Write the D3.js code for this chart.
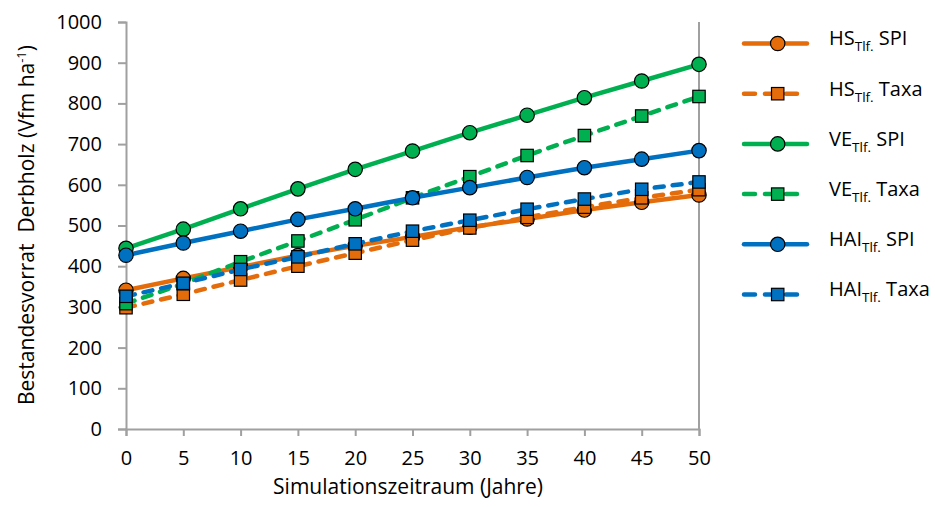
<!DOCTYPE html>
<html><head><meta charset="utf-8">
<script src="https://cdn.jsdelivr.net/npm/d3@7"></script>
<style>
html,body{margin:0;padding:0;background:#fff;}
text{font-family:"Open Sans","Noto Sans",sans-serif;fill:#000;}
</style></head>
<body>
<svg id="c" width="935" height="507"></svg>
<script>
const years = [0,5,10,15,20,25,30,35,40,45,50];
const hsSPI   = [341,370,398,426,450,472,496,516,538,557,575];
const hsTaxa  = [298,331,366,400,432,464,494,520,545,568,588];
const veSPI   = [444,491,541,590,638,683,728,771,814,855,896];
const veTaxa  = [308,357,411,462,514,568,620,672,721,769,817];
const haiSPI  = [427,457,486,515,541,568,593,618,642,663,684];
const haiTaxa = [326,358,392,423,455,486,513,540,565,589,607];
const yTicks = [0,100,200,300,400,500,600,700,800,900,1000];
const xTicks = [0,5,10,15,20,25,30,35,40,45,50];
const seriesNames = ["HS","HS","VE","VE","HAI","HAI"];
const seriesKinds = ["SPI","Taxa","SPI","Taxa","SPI","Taxa"];
const seriesColors = ["#E46C0A","#E46C0A","#00B050","#00B050","#0070C0","#0070C0"];
const seriesData = [hsSPI,hsTaxa,veSPI,veTaxa,haiSPI,haiTaxa];

const svg = d3.select("#c");
const x = d3.scaleLinear().domain([0,50]).range([126,699]);
const y = d3.scaleLinear().domain([0,1000]).range([429,22]);
const axisColor = "#A0A0A0";

// Y axis
const ya = svg.append("g").attr("transform","translate(126,0)")
  .call(d3.axisLeft(y).tickValues(yTicks).tickSize(8).tickPadding(16).tickFormat(d3.format("d")));
ya.select(".domain").attr("stroke",axisColor).attr("stroke-width",2);
ya.selectAll(".tick line").attr("stroke",axisColor).attr("stroke-width",2);
ya.selectAll(".tick text").attr("font-size",20).attr("font-family","Open Sans").attr("fill","#000");

// X axis
const xa = svg.append("g").attr("transform","translate(0,429)")
  .call(d3.axisBottom(x).tickValues(xTicks).tickSize(7).tickPadding(15).tickFormat(d3.format("d")));
xa.select(".domain").attr("stroke",axisColor).attr("stroke-width",2);
xa.selectAll(".tick line").attr("stroke",axisColor).attr("stroke-width",2);
xa.selectAll(".tick text").attr("font-size",20).attr("font-family","Open Sans").attr("fill","#000");

// Right border line
svg.append("line").attr("x1",x(50)).attr("x2",x(50)).attr("y1",y(1000)).attr("y2",y(0))
  .attr("stroke",axisColor).attr("stroke-width",2);

// Axis titles
svg.append("text").attr("x",408).attr("y",494).attr("text-anchor","middle")
  .attr("font-size",21).text("Simulationszeitraum (Jahre)");
const yt = svg.append("text").attr("transform","translate(34,225) rotate(-90)")
  .attr("text-anchor","middle").attr("font-size",21).style("white-space","pre");
yt.append("tspan").text("Bestandesvorrat  Derbholz (Vfm ha");
yt.append("tspan").attr("font-size",13).attr("dy",-8).text("-1");
yt.append("tspan").attr("dy",8).text(")");

const line = d3.line().x((d,i)=>x(years[i])).y(d=>y(d));

function drawMarker(g, kind, cx, cy, color){
  if(kind==="SPI"){
    g.append("circle").attr("cx",cx).attr("cy",cy).attr("r",7.2)
      .attr("fill",color).attr("stroke","#000").attr("stroke-width",1.2);
  } else {
    g.append("rect").attr("x",cx-6.2).attr("y",cy-6.2).attr("width",12.4).attr("height",12.4)
      .attr("fill",color).attr("stroke","#000").attr("stroke-width",1.2);
  }
}

seriesData.forEach((data,si)=>{
  const g = svg.append("g");
  const dashed = seriesKinds[si]==="Taxa";
  g.append("path").attr("d",line(data)).attr("fill","none")
    .attr("stroke",seriesColors[si]).attr("stroke-width",4.5)
    .attr("stroke-linecap","round").attr("stroke-linejoin","round")
    .attr("stroke-dasharray",dashed?"9,9":null);
  data.forEach((v,i)=>drawMarker(g, seriesKinds[si], x(years[i]), y(v), seriesColors[si]));
});

// Legend
const legY0 = 43.5, legStep = 50.2;
seriesData.forEach((data,si)=>{
  const ly = legY0 + si*legStep;
  const g = svg.append("g");
  const dashed = seriesKinds[si]==="Taxa";
  g.append("line").attr("x1",744).attr("x2",807).attr("y1",ly).attr("y2",ly)
    .attr("stroke",seriesColors[si]).attr("stroke-width",4.5)
    .attr("stroke-linecap","round")
    .attr("stroke-dasharray",dashed?"11,10":null);
  drawMarker(g, seriesKinds[si], 777.7, ly, seriesColors[si]);
  const t = g.append("text").attr("x",829).attr("y",ly+1.8).attr("font-size",20);
  t.append("tspan").text(seriesNames[si]);
  t.append("tspan").attr("font-size",13.5).attr("dy",6).text("Tlf.");
  t.append("tspan").attr("dy",-6).text("\u00a0"+seriesKinds[si]);
});
</script>
</body></html>
